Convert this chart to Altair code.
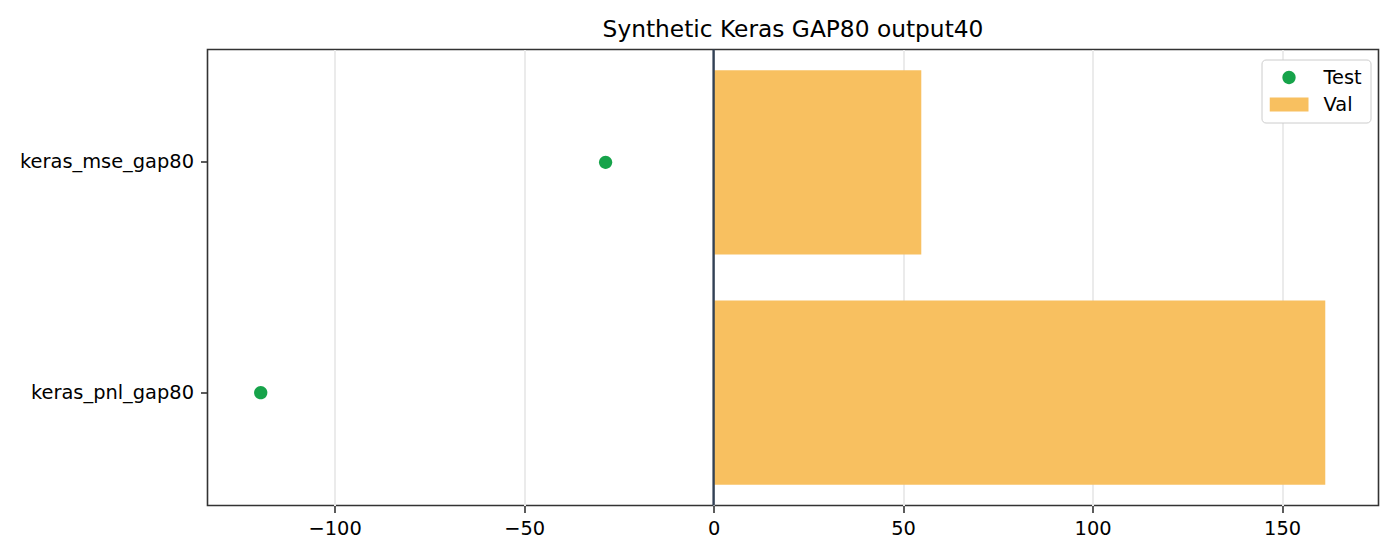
import altair as alt
import pandas as pd

# ---- data ----
categories = ["keras_mse_gap80", "keras_pnl_gap80"]
val_values = [54.8, 161.4]
test_values = [-28.5, -119.5]
series_names = ["Test", "Val"]
series_colors = ["#16a34a", "#f8c060"]
x_ticks = [-100, -50, 0, 50, 100, 150]
title_text = "Synthetic Keras GAP80 output40"

FONT = "DejaVu Sans"

test_df = pd.DataFrame({"model": categories, "value": test_values, "series": "Test"})
val_df = pd.DataFrame({"model": categories, "value": val_values, "series": "Val"})
zero_df = pd.DataFrame({"x": [0]})

lo = min(test_values + val_values + [0])
hi = max(test_values + val_values + [0])
m = (hi - lo) * 0.05
x_domain = [lo - m, hi + m]

circle_path = "M0.34,0A0.34,0.34,0,1,1,-0.34,0A0.34,0.34,0,1,1,0.34,0Z"
rect_path = "M-1,-0.36L1,-0.36L1,0.36L-1,0.36Z"

x_scale = alt.Scale(domain=x_domain, nice=False, zero=False)
y_scale = alt.Scale(domain=categories, paddingInner=0.2, paddingOuter=0.09)
color_scale = alt.Scale(domain=series_names, range=series_colors)
shape_scale = alt.Scale(domain=series_names, range=[circle_path, rect_path])

x_axis = alt.Axis(values=x_ticks, title=None, grid=True, gridColor="#ebebeb", gridWidth=2,
                  domain=False, tickColor="#333333", tickWidth=1.6, tickSize=7,
                  labelFont=FONT, labelFontSize=19.4, labelColor="#000000", labelPadding=7)
y_axis = alt.Axis(title=None, grid=False, domain=False, tickColor="#333333", tickWidth=1.6,
                  tickSize=7, labelFont=FONT, labelFontSize=19.4, labelColor="#000000",
                  labelPadding=7)

legend = alt.Legend(title=None, orient="none", legendX=1054, legendY=10, padding=8,
                    cornerRadius=4, strokeColor="#cccccc", fillColor="#ffffff",
                    labelFont=FONT, labelFontSize=19.4, labelColor="#000000",
                    labelOffset=15, rowPadding=7, clipHeight=20, symbolSize=1521,
                    symbolStrokeWidth=0)

points = alt.Chart(test_df).mark_point(filled=True, opacity=1).encode(
    x=alt.X("value:Q", scale=x_scale, axis=x_axis),
    y=alt.Y("model:N", scale=y_scale, axis=y_axis, sort=categories),
    color=alt.Color("series:N", scale=color_scale, legend=legend),
    shape=alt.Shape("series:N", scale=shape_scale, legend=legend),
    size=alt.value(1521),
)

bars = alt.Chart(val_df).mark_bar(opacity=1).encode(
    x=alt.X("value:Q", scale=x_scale, axis=x_axis),
    y=alt.Y("model:N", scale=y_scale, axis=y_axis, sort=categories),
    color=alt.Color("series:N", scale=color_scale, legend=legend),
)

zero_rule = alt.Chart(zero_df).mark_rule(color="#334155", strokeWidth=2.4).encode(
    x=alt.X("x:Q", scale=x_scale)
)

chart = alt.layer(points, bars, zero_rule).properties(
    width=1171,
    height=456,
    title=alt.TitleParams(title_text, font=FONT, fontSize=23.3, fontWeight="normal",
                          color="#000000", anchor="middle", offset=6),
    autosize=alt.AutoSizeParams(type="none"),
    padding={"left": 199.5, "top": 41.5, "right": 13.5, "bottom": 46.5},
).configure(background="#ffffff").configure_view(stroke="#333333", strokeWidth=1.6)

chart.save("out.html", embed_options={"renderer": "svg", "actions": False})
